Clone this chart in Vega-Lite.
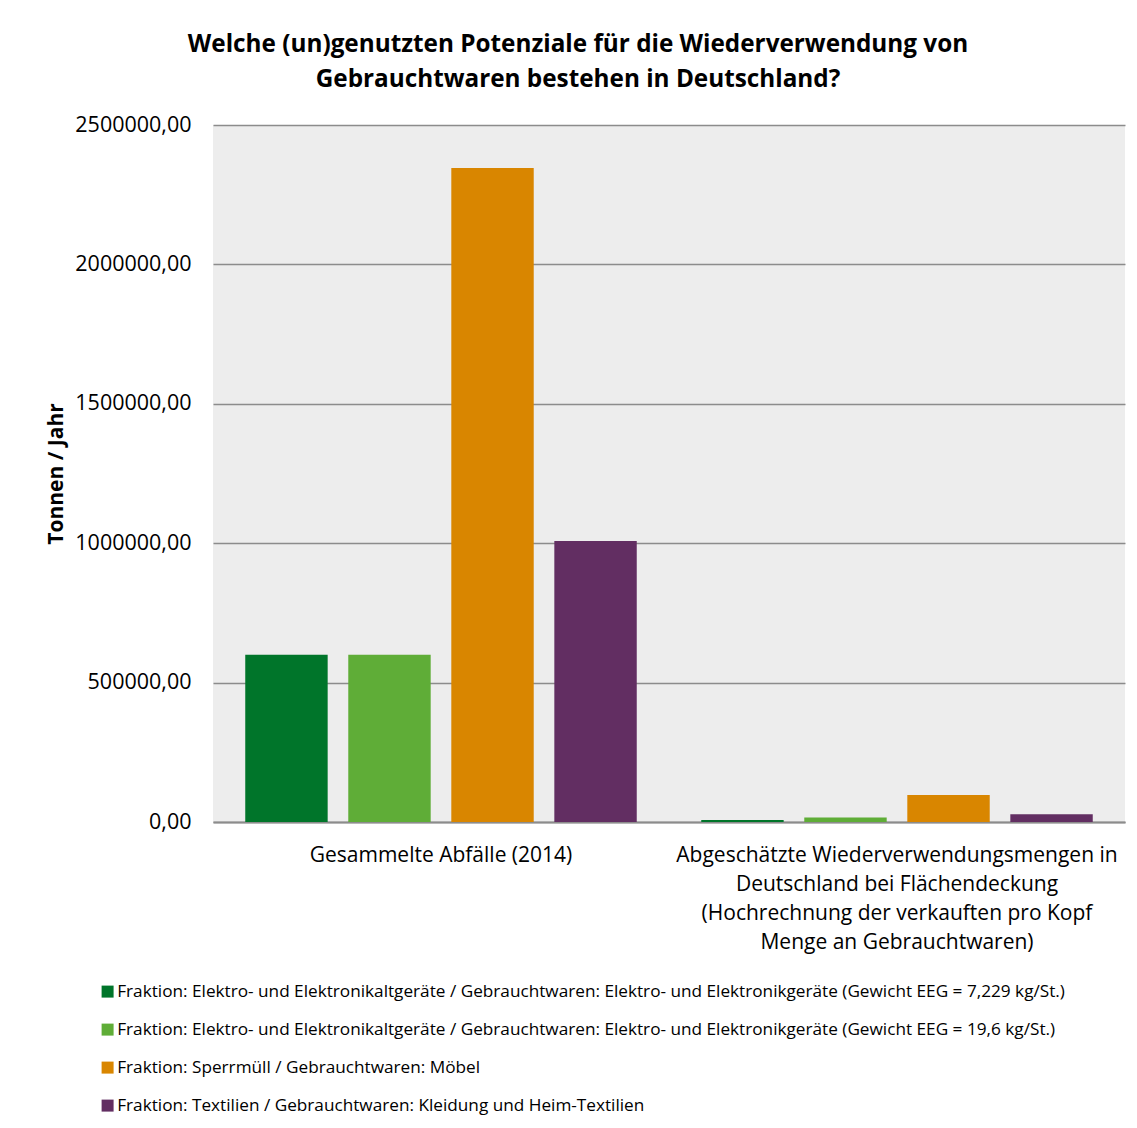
{
  "$schema": "https://vega.github.io/schema/vega-lite/v6.json",
  "width": 912,
  "height": 697,
  "autosize": {"type": "none"},
  "padding": {"left": 213, "top": 125, "right": 12, "bottom": 306},
  "background": "white",
  "title": {
    "text": ["Welche (un)genutzten Potenziale für die Wiederverwendung von", "Gebrauchtwaren bestehen in Deutschland?"],
    "anchor": "middle",
    "dx": -91,
    "offset": 22,
    "font": "Open Sans",
    "fontSize": 24.3,
    "fontWeight": "bold",
    "color": "#000000",
    "lineHeight": 35
  },
  "config": {
    "locale": {"number": {"decimal": ",", "thousands": ".", "grouping": [3], "currency": ["", " €"]}},
    "view": {"stroke": null, "fill": "#ededed"},
    "font": "Open Sans"
  },
  "data": {
    "values": [
      {"gruppe": "Gesammelte Abfälle (2014)", "fraktion": "F1", "tonnen": 600000},
      {"gruppe": "Gesammelte Abfälle (2014)", "fraktion": "F2", "tonnen": 600000},
      {"gruppe": "Gesammelte Abfälle (2014)", "fraktion": "F3", "tonnen": 2346000},
      {"gruppe": "Gesammelte Abfälle (2014)", "fraktion": "F4", "tonnen": 1008000},
      {"gruppe": "Abgeschätzte Wiederverwendungsmengen", "fraktion": "F1", "tonnen": 7000},
      {"gruppe": "Abgeschätzte Wiederverwendungsmengen", "fraktion": "F2", "tonnen": 16000},
      {"gruppe": "Abgeschätzte Wiederverwendungsmengen", "fraktion": "F3", "tonnen": 97000},
      {"gruppe": "Abgeschätzte Wiederverwendungsmengen", "fraktion": "F4", "tonnen": 27500}
    ]
  },
  "mark": {"type": "bar"},
  "encoding": {
    "x": {
      "field": "gruppe",
      "type": "nominal",
      "sort": ["Gesammelte Abfälle (2014)", "Abgeschätzte Wiederverwendungsmengen"],
      "scale": {"paddingInner": 0, "paddingOuter": 0},
      "axis": {
        "title": null,
        "labelAngle": 0,
        "labelFontSize": 21,
        "labelColor": "#000000",
        "labelPadding": 22,
        "labelLineHeight": 29,
        "labelLimit": 0,
        "ticks": false,
        "domain": true,
        "domainColor": "#8c8c8c",
        "domainWidth": 2,
        "labelExpr": "datum.value == 'Abgeschätzte Wiederverwendungsmengen' ? ['Abgeschätzte Wiederverwendungsmengen in', 'Deutschland bei Flächendeckung', '(Hochrechnung der  verkauften pro Kopf', 'Menge an Gebrauchtwaren)'] : datum.label"
      }
    },
    "xOffset": {
      "field": "fraktion",
      "type": "nominal",
      "scale": {"paddingInner": 0.2, "paddingOuter": 0.313}
    },
    "y": {
      "field": "tonnen",
      "type": "quantitative",
      "scale": {"domain": [0, 2500000], "nice": false},
      "axis": {
        "title": "Tonnen / Jahr",
        "titleFontSize": 21,
        "titleFontWeight": "bold",
        "titleColor": "#000000",
        "titlePadding": 8,
        "values": [0, 500000, 1000000, 1500000, 2000000, 2500000],
        "format": ".2f",
        "labelFontSize": 21.5,
        "labelColor": "#000000",
        "labelPadding": 22,
        "ticks": false,
        "domain": false,
        "grid": true,
        "gridColor": "#8c8c8c",
        "gridWidth": 1.5
      }
    },
    "color": {
      "field": "fraktion",
      "type": "nominal",
      "scale": {"domain": ["F1", "F2", "F3", "F4"], "range": ["#00752a", "#5fad37", "#d98600", "#622e62"]},
      "legend": {
        "title": null,
        "orient": "none",
        "legendX": -114,
        "legendY": 858,
        "direction": "vertical",
        "symbolType": "square",
        "symbolSize": 144,
        "symbolStrokeWidth": 0,
        "symbolOpacity": 1,
        "labelFontSize": 17.2,
        "labelColor": "#000000",
        "labelLimit": 1100,
        "labelOffset": 1,
        "rowPadding": 20,
        "labelExpr": "datum.value == 'F1' ? 'Fraktion: Elektro- und Elektronikaltgeräte / Gebrauchtwaren: Elektro- und Elektronikgeräte (Gewicht EEG = 7,229 kg/St.)' : datum.value == 'F2' ? 'Fraktion: Elektro- und Elektronikaltgeräte / Gebrauchtwaren: Elektro- und Elektronikgeräte (Gewicht EEG = 19,6 kg/St.)' : datum.value == 'F3' ? 'Fraktion: Sperrmüll / Gebrauchtwaren: Möbel' : 'Fraktion: Textilien / Gebrauchtwaren: Kleidung und Heim-Textilien'"
      }
    }
  }
}
